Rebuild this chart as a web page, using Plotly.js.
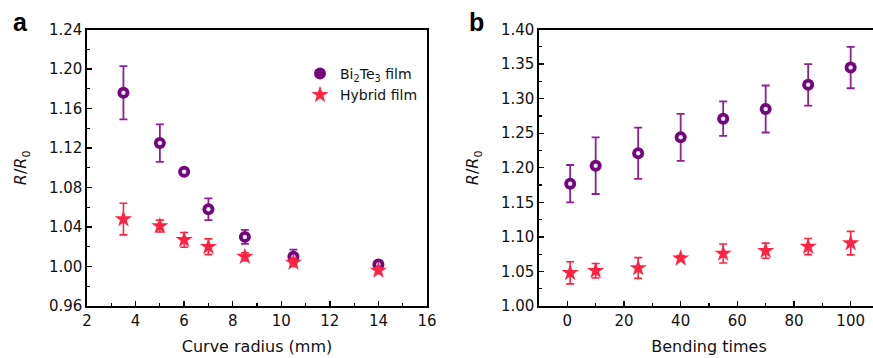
<!DOCTYPE html>
<html><head><meta charset="utf-8">
<script src="https://cdn.plot.ly/plotly-3.0.1.min.js"></script>
<style>html,body{margin:0;padding:0;overflow:hidden;background:#fff;width:873px;height:358px}</style>
</head><body><div id="chart" style="width:882px;height:358px"></div>
<script>
// Panel a: R/R0 vs curve radius
const radius = [3.5, 5, 6, 7, 8.5, 10.5, 14];
const biRadius = [1.176, 1.125, 1.096, 1.058, 1.030, 1.010, 1.002];
const biRadiusErr = [0.027, 0.019, 0.003, 0.011, 0.007, 0.007, 0.002];
const hyRadius = [1.048, 1.041, 1.027, 1.020, 1.010, 1.004, 0.996];
const hyRadiusErr = [0.016, 0.006, 0.0075, 0.008, 0.004, 0.004, 0.003];
// Panel b: R/R0 vs bending times
const bending = [1, 10, 25, 40, 55, 70, 85, 100];
const biBend = [1.177, 1.203, 1.221, 1.244, 1.271, 1.285, 1.320, 1.345];
const biBendErr = [0.027, 0.041, 0.037, 0.034, 0.025, 0.034, 0.030, 0.030];
const hyBend = [1.048, 1.051, 1.055, 1.069, 1.076, 1.080, 1.086, 1.091];
const hyBendErr = [0.016, 0.0105, 0.015, 0.004, 0.0137, 0.011, 0.0117, 0.017];

const purple = '#73067b', purpleErr = '#8f1f92', red = '#ff2342';
const W = 882, H = 358;
const FONT = 'DejaVu Sans, Liberation Sans, sans-serif';

function biTrace(x, y, e, xa, ya, show) {
  return {x, y, type:'scatter', mode:'markers', name:'Bi<sub>2</sub>Te<sub>3</sub> film', xaxis:xa, yaxis:ya, showlegend:show,
    error_y:{type:'data', array:e, visible:true, color:purpleErr, thickness:1.8, width:4},
    marker:{symbol:'circle', size:12, color:purple, line:{width:0}}};
}
function hiTrace(x, y, xa, ya) {
  return {x, y, type:'scatter', mode:'markers', xaxis:xa, yaxis:ya, showlegend:false, hoverinfo:'skip',
    marker:{symbol:'circle', size:4.5, color:'#c9d8ff', line:{width:0}, gradient:{type:'radial', color:'#ffffff'}}};
}
function hyTrace(x, y, e, xa, ya, show) {
  return {x, y, type:'scatter', mode:'markers', name:'Hybrid film', xaxis:xa, yaxis:ya, showlegend:show,
    error_y:{type:'data', array:e, visible:true, color:red, thickness:1.6, width:4},
    marker:{symbol:'star', size:13, color:red, line:{width:0}}};
}
const data = [
  biTrace(radius, biRadius, biRadiusErr, 'x', 'y', true),
  hiTrace(radius, biRadius, 'x', 'y'),
  hyTrace(radius, hyRadius, hyRadiusErr, 'x', 'y', true),
  biTrace(bending, biBend, biBendErr, 'x2', 'y2', false),
  hiTrace(bending, biBend, 'x2', 'y2'),
  hyTrace(bending, hyBend, hyBendErr, 'x2', 'y2', false)
];
const yTop = 1 - 29.5/H, yBot = 1 - 306/H;
const axCommon = {showline:true, linecolor:'#000', linewidth:1.6, ticks:'inside', ticklen:5, tickwidth:1.3, tickcolor:'#000',
  showgrid:false, zeroline:false, tickfont:{family:FONT, size:15, color:'#111'},
  minor:{ticks:'inside', ticklen:3, tickwidth:1.2, tickcolor:'#000'}};
const titleFont = {family:FONT, size:16, color:'#111'};
const layout = {
  width:W, height:H, margin:{l:0, r:0, t:0, b:0}, paper_bgcolor:'#fff', plot_bgcolor:'#fff',
  font:{family:FONT, color:'#111'},
  xaxis:Object.assign({}, axCommon, {domain:[87/W, 427/W], range:[2,16], dtick:2, tick0:2, mirror:true, anchor:'y',
    minor:Object.assign({}, axCommon.minor, {dtick:1}),
    title:{text:'Curve radius (mm)', font:titleFont, standoff:12}}),
  yaxis:Object.assign({}, axCommon, {domain:[yBot, yTop], range:[0.96,1.24], dtick:0.04, tick0:0.96, tickformat:'.2f', mirror:true, anchor:'x',
    minor:Object.assign({}, axCommon.minor, {dtick:0.02}),
    title:{text:'<i>R</i>/<i>R</i><sub>0</sub>', font:titleFont, standoff:18}}),
  xaxis2:Object.assign({}, axCommon, {domain:[539/W, 879/W], range:[-10,110], dtick:20, tick0:0, mirror:true, anchor:'y2',
    minor:Object.assign({}, axCommon.minor, {dtick:10}),
    title:{text:'Bending times', font:titleFont, standoff:12}}),
  yaxis2:Object.assign({}, axCommon, {domain:[yBot, yTop], range:[1.0,1.4], dtick:0.05, tick0:1.0, tickformat:'.2f', mirror:true, anchor:'x2',
    minor:Object.assign({}, axCommon.minor, {dtick:0.025}),
    title:{text:'<i>R</i>/<i>R</i><sub>0</sub>', font:titleFont, standoff:18}}),
  legend:{x:300/W, y:1-58/H, xanchor:'left', yanchor:'top', bgcolor:'rgba(0,0,0,0)', font:{family:FONT, size:14, color:'#111'},
    itemwidth:30, tracegroupgap:0},
  annotations:[
    {text:'<b>a</b>', x:20/W, y:1-22/H, xref:'paper', yref:'paper', xanchor:'center', yanchor:'middle', showarrow:false, font:{family:'Liberation Sans, Arial, sans-serif', size:25, color:'#000'}},
    {text:'<b>b</b>', x:476/W, y:1-22/H, xref:'paper', yref:'paper', xanchor:'center', yanchor:'middle', showarrow:false, font:{family:'Liberation Sans, Arial, sans-serif', size:25, color:'#000'}}
  ]
};
Plotly.newPlot('chart', data, layout, {displayModeBar:false, staticPlot:true});
</script></body></html>
